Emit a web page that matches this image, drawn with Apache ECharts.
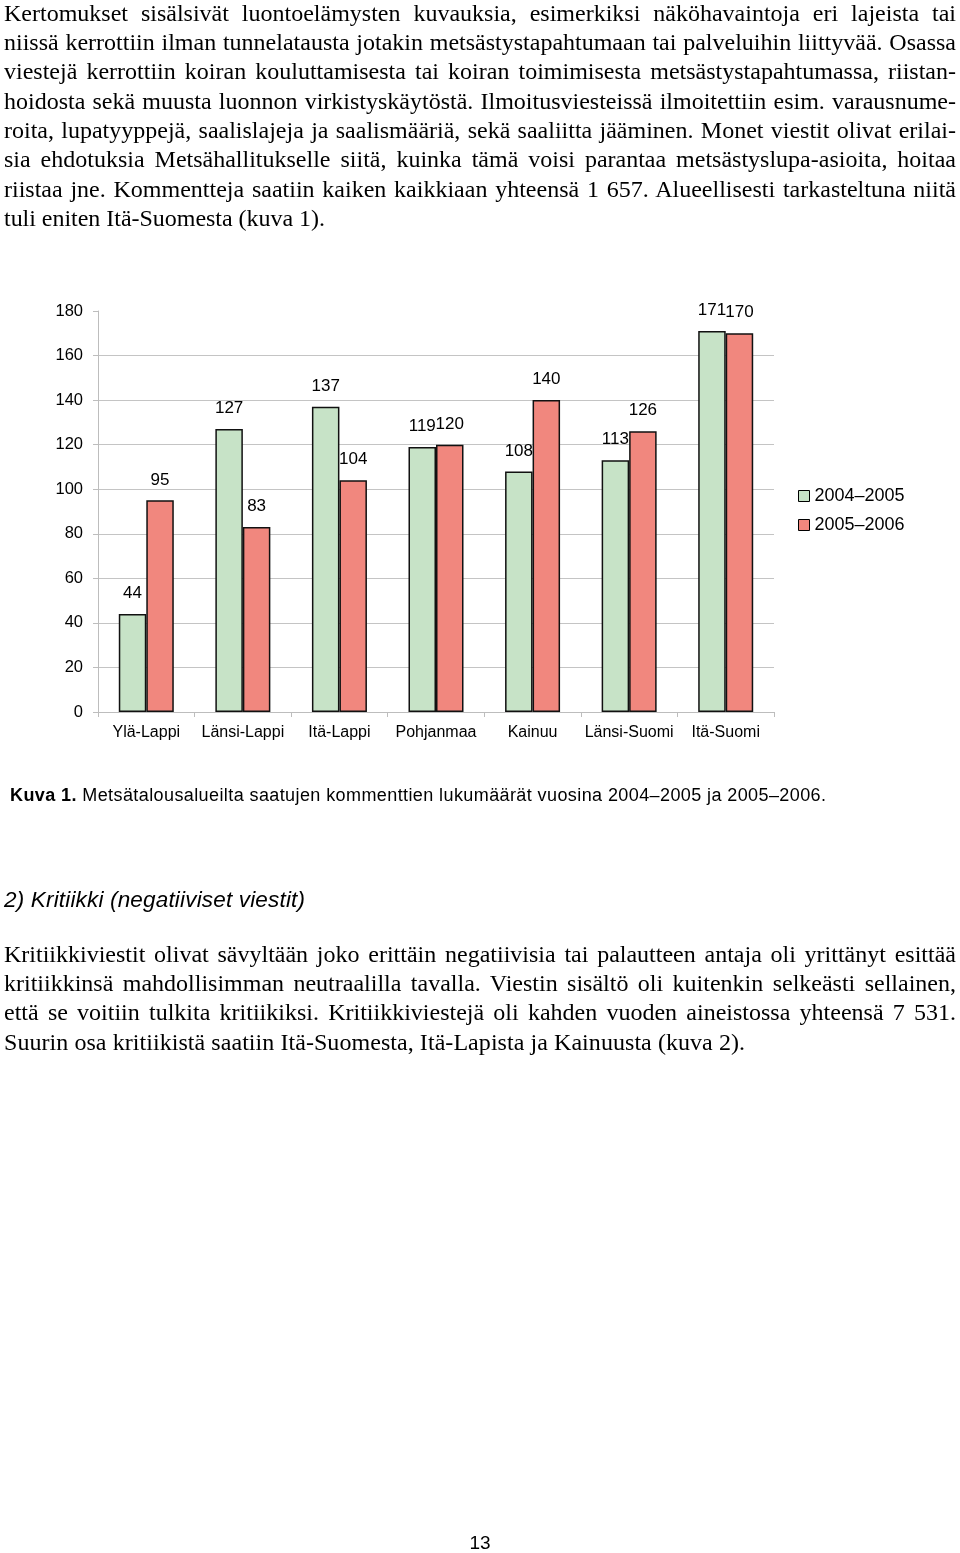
<!DOCTYPE html>
<html>
<head>
<meta charset="utf-8">
<script src="https://cdn.jsdelivr.net/npm/echarts@6/dist/echarts.min.js"></script>
<style>
  html, body { margin: 0; padding: 0; background: #fff; }
  #page { position: relative; width: 960px; height: 1553px; overflow: hidden; background: #fff; }
  #chart { position: absolute; left: 0; top: 0; width: 960px; height: 1553px; }
  .txt { position: absolute; white-space: nowrap; color: #000; }
  .serif { font-family: "Liberation Serif", "Times New Roman", serif; font-size: 24px; line-height: 24px; }
  .sans { font-family: "Liberation Sans", Arial, sans-serif; }
</style>
</head>
<body>
<div id="page">
  <div id="chart"></div>
</div>
<script>
// ---- Chart data ----
const categories = ['Ylä-Lappi', 'Länsi-Lappi', 'Itä-Lappi', 'Pohjanmaa', 'Kainuu', 'Länsi-Suomi', 'Itä-Suomi'];
const seriesNames = ['2004–2005', '2005–2006'];
const values2004_2005 = [44, 127, 137, 119, 108, 113, 171];
const values2005_2006 = [95, 83, 104, 120, 140, 126, 170];
const yMin = 0, yMax = 180, yInterval = 20;

// ---- Page text ----
const para1Lines = [
  'Kertomukset sisälsivät luontoelämysten kuvauksia, esimerkiksi näköhavaintoja eri lajeista tai',
  'niissä kerrottiin ilman tunnelatausta jotakin metsästystapahtumaan tai palveluihin liittyvää. Osassa',
  'viestejä kerrottiin koiran kouluttamisesta tai koiran toimimisesta metsästystapahtumassa, riistan-',
  'hoidosta sekä muusta luonnon virkistyskäytöstä. Ilmoitusviesteissä ilmoitettiin esim. varausnume-',
  'roita, lupatyyppejä, saalislajeja ja saalismääriä, sekä saaliitta jääminen. Monet viestit olivat erilai-',
  'sia ehdotuksia Metsähallitukselle siitä, kuinka tämä voisi parantaa metsästyslupa-asioita, hoitaa',
  'riistaa jne. Kommentteja saatiin kaiken kaikkiaan yhteensä 1 657. Alueellisesti tarkasteltuna niitä',
  'tuli eniten Itä-Suomesta (kuva 1).'
];
const captionBold = 'Kuva 1.';
const captionRest = ' Metsätalousalueilta saatujen kommenttien lukumäärät vuosina 2004–2005 ja 2005–2006.';
const heading2 = '2) Kritiikki (negatiiviset viestit)';
const para2Lines = [
  'Kritiikkiviestit olivat sävyltään joko erittäin negatiivisia tai palautteen antaja oli yrittänyt esittää',
  'kritiikkinsä mahdollisimman neutraalilla tavalla. Viestin sisältö oli kuitenkin selkeästi sellainen,',
  'että se voitiin tulkita kritiikiksi. Kritiikkiviestejä oli kahden vuoden aineistossa yhteensä 7 531.',
  'Suurin osa kritiikistä saatiin Itä-Suomesta, Itä-Lapista ja Kainuusta (kuva 2).'
];
const pageNumber = '13';

// ---- Text rendering helpers ----
const page = document.getElementById('page');
function addText(html, cls, left, top, style) {
  const d = document.createElement('div');
  d.className = 'txt ' + cls;
  d.style.left = left + 'px';
  d.style.top = top + 'px';
  if (style) Object.assign(d.style, style);
  d.innerHTML = html;
  page.appendChild(d);
  return d;
}
function fitWidth(el, target, mode) {
  const w = el.getBoundingClientRect().width;
  if (mode === 'word') {
    const n = (el.textContent.match(/ /g) || []).length;
    if (n > 0) el.style.wordSpacing = ((target - w) / n) + 'px';
  } else {
    const n = el.textContent.length - 1;
    if (n > 0) el.style.letterSpacing = ((target - w) / n) + 'px';
  }
}
function renderPara(lines, firstBaseline, step, lastWidth) {
  lines.forEach((line, i) => {
    const top = firstBaseline + i * step - 24 * 0.8375;
    const el = addText(line, 'serif', 4, top);
    if (i < lines.length - 1) fitWidth(el, 952, 'word');
    else fitWidth(el, lastWidth, 'letter');
  });
}
renderPara(para1Lines, 20.7, 29.35, 321);
renderPara(para2Lines, 961.7, 29.4, 741);

const cap = addText('<b>' + captionBold + '</b>' + captionRest, 'sans', 10, 801 - 18 * 0.8465,
  { fontSize: '18px', lineHeight: '18px' });
fitWidth(cap, 816, 'letter');
const h2 = addText(heading2, 'sans', 4, 908.3 - 22.5 * 0.8465,
  { fontSize: '22.5px', lineHeight: '22.5px', fontStyle: 'italic' });
fitWidth(h2, 301, 'letter');
const pn = addText(pageNumber, 'sans', 0, 1549.3 - 19 * 0.8465,
  { fontSize: '19px', lineHeight: '19px', width: '960px', textAlign: 'center' });

// ---- Chart ----
const chart = echarts.init(document.getElementById('chart'), null, { renderer: 'canvas' });
const font = '"Liberation Sans", Arial, sans-serif';
const colors = ['#c7e3c7', '#f1877e'];
const labelOpt = { show: true, position: 'top', distance: 12, fontSize: 17, color: '#000', fontFamily: font };
chart.setOption({
  animation: false,
  backgroundColor: 'transparent',
  textStyle: { fontFamily: font },
  grid: { left: 98, top: 311, width: 676, height: 401, containLabel: false },
  legend: {
    orient: 'vertical',
    left: 798,
    top: 487,
    padding: 0,
    itemWidth: 11,
    itemHeight: 11,
    itemGap: 11,
    icon: 'rect',
    itemStyle: { borderColor: '#000', borderWidth: 1 },
    textStyle: { fontSize: 18, color: '#000', fontFamily: font },
    data: seriesNames
  },
  xAxis: {
    type: 'category',
    data: categories,
    axisLine: { show: true, lineStyle: { color: '#bdbdbd', width: 1 } },
    axisTick: { show: true, length: 5, lineStyle: { color: '#bdbdbd' } },
    axisLabel: { fontSize: 16, color: '#000', margin: 13, fontFamily: font, interval: 0 },
    splitLine: { show: false }
  },
  yAxis: {
    type: 'value',
    min: yMin,
    max: yMax,
    interval: yInterval,
    axisLine: { show: true, lineStyle: { color: '#bdbdbd', width: 1 } },
    axisTick: { show: true, length: 5, lineStyle: { color: '#bdbdbd' } },
    axisLabel: { fontSize: 16.5, color: '#000', margin: 15, fontFamily: font },
    splitLine: { show: true, showMaxLine: false, lineStyle: { color: '#c4c4c4', width: 1 } }
  },
  series: [
    {
      name: seriesNames[0], type: 'bar', data: values2004_2005,
      barWidth: 27.5, barGap: '0%',
      itemStyle: { color: colors[0], borderColor: '#111', borderWidth: 1.5 },
      label: labelOpt
    },
    {
      name: seriesNames[1], type: 'bar', data: values2005_2006,
      barWidth: 27.5, barGap: '0%',
      itemStyle: { color: colors[1], borderColor: '#111', borderWidth: 1.5 },
      label: labelOpt
    }
  ]
});
</script>
</body>
</html>
